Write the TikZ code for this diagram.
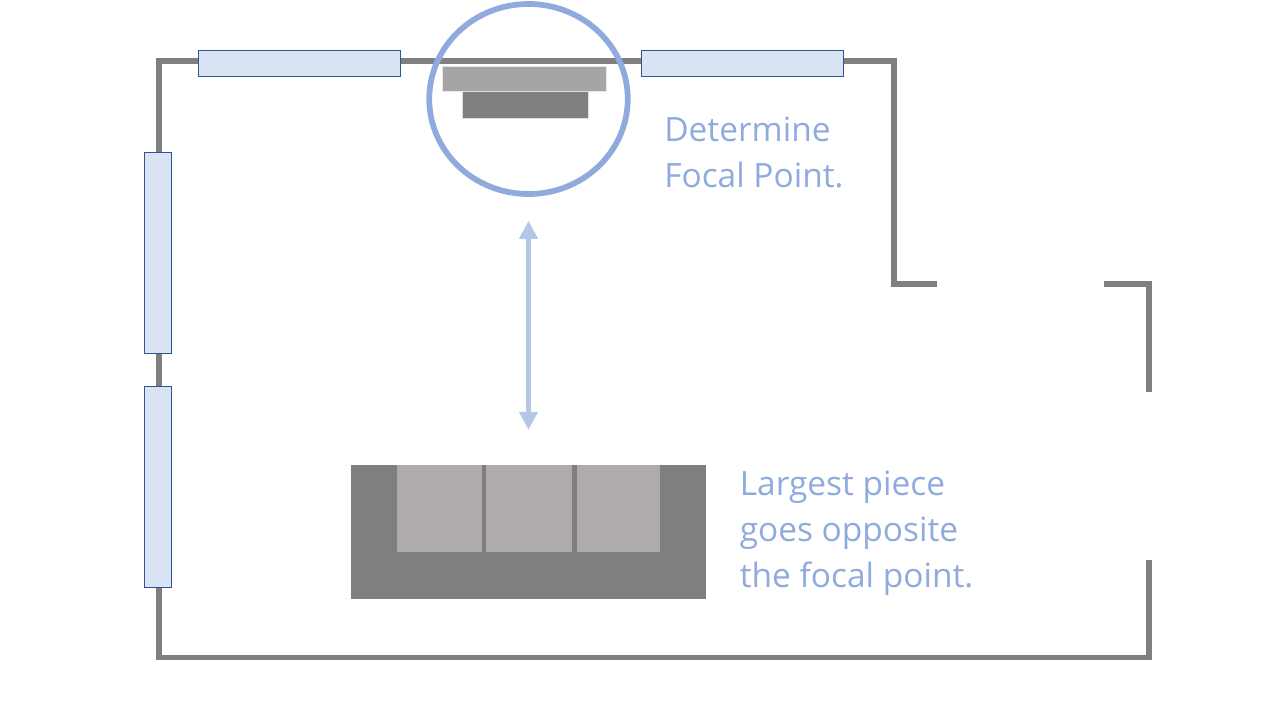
\documentclass[tikz,border=0pt]{standalone}
\usepackage{fontspec}
\setmainfont{Open Sans}
\usetikzlibrary{arrows.meta,shapes.geometric}
\definecolor{wallgray}{HTML}{7F7F7F}
\definecolor{glassfill}{HTML}{DAE3F3}
\definecolor{glassline}{HTML}{2F5597}
\definecolor{mantle}{HTML}{A5A5A5}
\definecolor{cushion}{HTML}{AFABAB}
\definecolor{accent}{HTML}{8FAADC}
\definecolor{accentlight}{HTML}{B4C7E7}
\tikzset{
  x=0.75pt,y=-0.75pt,
  wall/.style={draw=wallgray,line width=4.3pt,miter limit=10},
  glass/.style={draw=glassline,line width=0.75pt,fill=glassfill},
  block/.style={inner sep=0pt,outer sep=0pt,anchor=north west},
  note/.style={text=accent,font=\fontsize{25.1pt}{34.5pt}\selectfont,align=left,anchor=base west,inner sep=0pt},
}
\begin{document}
\begin{tikzpicture}
\useasboundingbox (0,0) rectangle (1268,720);
% walls
\draw[wall] (1148.7,560) -- (1148.7,657.5) -- (159,657.5) -- (159,61.3) -- (894,61.3) -- (894,284) -- (936.7,284);
\draw[wall] (1104,284) -- (1148.7,284) -- (1148.7,391.7);
% windows
\draw[glass] (198.2,50.5) rectangle (400,77);
\draw[glass] (641.2,50.5) rectangle (843,77);
\draw[glass] (144.5,152.3) rectangle (171,354);
\draw[glass] (144.5,386.3) rectangle (171,587);
% fireplace
\fill[mantle,draw=white!75!mantle,line width=0.5pt] (442.5,66) rectangle (606.5,91.5);
\fill[wallgray,draw=white!75!wallgray,line width=0.5pt] (462.5,91) rectangle (588,118.5);
% focal circle
\node[ellipse,draw=accent,line width=4.3pt,minimum width=198.5pt*0.75,minimum height=190pt*0.75,inner sep=0pt] (focal) at (528.5,99) {};
% sofa
\node[block,fill=wallgray,minimum width=355*0.75pt,minimum height=134.5*0.75pt] (sofa) at (351,464.5) {};
\node[block,fill=cushion,minimum width=84.5*0.75pt,minimum height=87.5*0.75pt] (cushA) at (397.3,464.5) {};
\node[block,fill=cushion,minimum width=86*0.75pt,minimum height=87.5*0.75pt] (cushB) at (486.3,464.5) {};
\node[block,fill=cushion,minimum width=83*0.75pt,minimum height=87.5*0.75pt] (cushC) at (577,464.5) {};
% arrow
\draw[accentlight,line width=4.4pt,{Triangle[width=13.5pt,length=13.5pt]}-{Triangle[width=13.5pt,length=13.5pt]},shorten <=18pt,shorten >=26pt] (focal.south) -- (sofa.north);
% labels
\node[note] (focaltext) at (664,187.5) {Determine\\Focal Point.};
\node[note] (sofatext) at (739.5,587.5) {Largest piece\\goes opposite\\the focal point.};
\end{tikzpicture}
\end{document}
